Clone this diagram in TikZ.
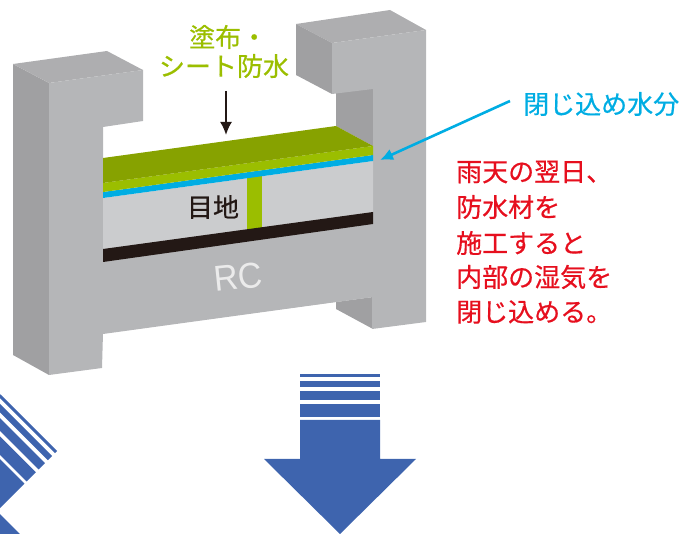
\documentclass[tikz,border=0pt]{standalone}
\usepackage{fontspec}
\usetikzlibrary{arrows.meta}
\setmainfont{Liberation Sans}
\newfontfamily\jp[FakeBold=0.5]{Noto Sans CJK JP}
\definecolor{rcfront}{HTML}{B5B6B8}
\definecolor{rctop}{HTML}{AEAEB0}
\definecolor{rcside}{HTML}{A0A0A2}
\definecolor{joint}{HTML}{CBCCCE}
\definecolor{dkgreen}{HTML}{87A200}
\definecolor{ltgreen}{HTML}{9BBE00}
\definecolor{cyanb}{HTML}{00ADE3}
\definecolor{blk}{HTML}{231815}
\definecolor{redt}{HTML}{E60F1E}
\definecolor{bluea}{HTML}{3E64AE}
\newcommand{\downarrowshape}{%
  \fill[bluea] (0,0) rectangle (-80,3);
  \fill[bluea] (0,7) rectangle (-80,13);
  \fill[bluea] (0,17) rectangle (-80,26);
  \fill[bluea] (0,30) rectangle (-80,43);
  \fill[bluea] (0,46) -- (0,85) -- (36,85) -- (-40,160) -- (-116,85) -- (-80,85) -- (-80,46) -- cycle;
}
\tikzset{
  x=1pt,y=-1pt,
  jptext/.style={font=\jp\fontsize{26}{26}\selectfont,inner sep=0pt},
  redline/.style={jptext,text=redt,anchor=west},
  greenline/.style={jptext,text=ltgreen},
  leader/.style={line width=2.6pt,cyanb,-{Latex[length=13pt,width=12pt]}},
  pointer/.style={line width=2pt,blk,-{Latex[length=13pt,width=12pt]}},
}
\begin{document}
\begin{tikzpicture}
\useasboundingbox (0,0) rectangle (699,534);
\clip (0,0) rectangle (699,534);
% RC body, back faces
\fill[rcside] (13,64) -- (49,83) -- (49,375) -- (13,355) -- cycle;
\fill[rctop] (13,64) -- (107,51) -- (143,70) -- (49,83) -- cycle;
\fill[rctop] (296,24) -- (390,10) -- (426,30) -- (332,43) -- cycle;
\fill[rcside] (296,24) -- (332,43) -- (332,94) -- (296,75) -- cycle;
\fill[rcside] (336,93) -- (373,88) -- (373,146) -- (336,126) -- cycle;
\fill[rcside] (336,302) -- (373,297) -- (373,329) -- (336,309) -- cycle;
% RC front
\fill[rcfront] (49,83) -- (143,70) -- (143,121) -- (103,127) -- (103,333) -- (373,296)
  -- (373,89) -- (332,94) -- (332,43) -- (426,30) -- (426,322) -- (372,329) -- (372,297)
  -- (103,333) -- (102,368) -- (49,375) -- cycle;
\fill[rcfront] (103,240) -- (373,200) -- (373,297) -- (103,334) -- cycle;
% layers
\fill[joint] (103,198) -- (373,161) -- (373,213) -- (103,250) -- cycle;
\fill[ltgreen] (247,176) rectangle (262,229);
\fill[blk] (103,249) -- (373,212) -- (373,224) -- (103,262) -- cycle;
\fill[cyanb] (103,192) -- (373,155) -- (373,161) -- (103,198) -- cycle;
\fill[ltgreen] (103,183) -- (373,146) -- (373,155) -- (103,192) -- cycle;
\fill[dkgreen] (103,158) -- (336,126) -- (373,146) -- (103,183) -- cycle;
% labels
\node[jptext,text=blk] (meji) at (213,207) {目地};
\node[inner sep=0pt,text=black!8,rotate=6,font=\fontsize{36}{36}\selectfont,xscale=0.93] (rc) at (238,277) {RC};
\node[greenline,anchor=west] (g1) at (189,37) {塗布・};
\node[greenline] (g2) at (224,66) {シート防水};
\node[jptext,text=cyanb,anchor=west] (trap) at (523,104) {閉じ込め水分};
\node[redline] (r1) at (456,172) {雨天の翌日、};
\node[redline] (r2) at (456,207) {防水材を};
\node[redline] (r3) at (456,243) {施工すると};
\node[redline] (r4) at (456,277) {内部の湿気を};
\node[redline] (r5) at (456,312) {閉じ込める。};
% pointers
\coordinate (ptop) at (226,91);
\coordinate (ptip) at (226,135);
\draw[pointer] (ptop) -- (ptip);
\coordinate (ltail) at (510,101);
\coordinate (ltip) at (380,160);
\draw[leader] (ltail) -- (ltip);
% blue arrows
\begin{scope}[shift={(380,374)}]
\downarrowshape
\end{scope}
\begin{scope}[shift={(57,451)},rotate=-45]
\downarrowshape
\end{scope}
\end{tikzpicture}
\end{document}
